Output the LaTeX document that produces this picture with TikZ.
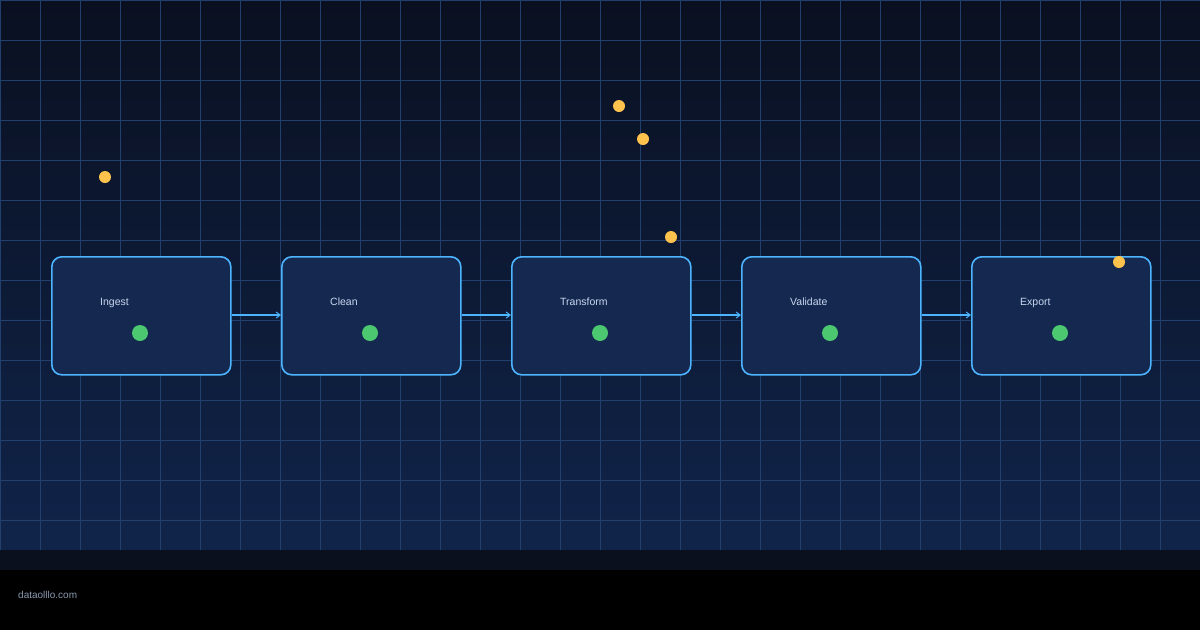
\documentclass[tikz,border=0pt]{standalone}
\usepackage{fontspec}
\setmainfont{Liberation Sans}
\usetikzlibrary{arrows.meta}
\definecolor{bgtop}{HTML}{0A1020}
\definecolor{bgbot}{HTML}{10244A}
\definecolor{gridc}{HTML}{22406E}
\definecolor{boxfill}{HTML}{152850}
\definecolor{boxline}{HTML}{4DB5FF}
\definecolor{labelc}{HTML}{C8D8F0}
\definecolor{greendot}{HTML}{4CC870}
\definecolor{yellowdot}{HTML}{FFC34D}
\definecolor{bandc}{HTML}{0A101E}
\definecolor{footc}{HTML}{8A9AB0}
\tikzset{
  stagebox/.style={draw=boxline, fill=boxfill, line width=1.6pt, rounded corners=10pt, minimum width=179pt, minimum height=118pt, inner sep=0pt, anchor=north west},
  stagelabel/.style={text=labelc, font=\fontsize{10.5}{12}\selectfont, anchor=base west, inner sep=0pt},
  gdot/.style={circle, fill=greendot, minimum size=16pt, inner sep=0pt},
  ydot/.style={circle, fill=yellowdot, minimum size=12pt, inner sep=0pt},
  flow/.style={draw=boxline, line width=1.4pt, -{Straight Barb[length=4pt,width=6pt,line width=1pt]}}
}
\begin{document}
\begin{tikzpicture}[x=1pt,y=-1pt]
\useasboundingbox (0,0) rectangle (1200,630);
\shade[top color=bgtop, bottom color=bgbot] (0,0) rectangle (1200,550);
\foreach \x in {0,40,...,1160} \draw[gridc, line width=1pt] (\x,0) -- (\x,550);
\foreach \y in {0,40,...,520} \draw[gridc, line width=1pt] (0,\y) -- (1200,\y);
\fill[bandc] (0,550) rectangle (1200,570);
\fill[black] (0,570) rectangle (1200,630);
\node[text=footc, font=\fontsize{10}{12}\selectfont, anchor=base west, inner sep=0pt] (foot) at (18,598) {dataolllo.com};
\foreach \n/\x/\t in {a/50/Ingest,b/280/Clean,c/510/Transform,d/740/Validate,e/970/Export}{
  \node[stagebox] (\n) at (\x+1,256) {};
  \node[stagelabel] (\n l) at (\x+50,305) {\t};
  \node[gdot] (\n g) at (\x+90,333) {};
}
\draw[flow] (a.east |- 0,315) -- (b.west |- 0,315);
\draw[flow] (b.east |- 0,315) -- (c.west |- 0,315);
\draw[flow] (c.east |- 0,315) -- (d.west |- 0,315);
\draw[flow] (d.east |- 0,315) -- (e.west |- 0,315);
\node[ydot] (y1) at (105,177) {};
\node[ydot] (y2) at (619,106) {};
\node[ydot] (y3) at (643,139) {};
\node[ydot] (y4) at (671,237) {};
\node[ydot] (y5) at (1119,262) {};
\end{tikzpicture}
\end{document}
